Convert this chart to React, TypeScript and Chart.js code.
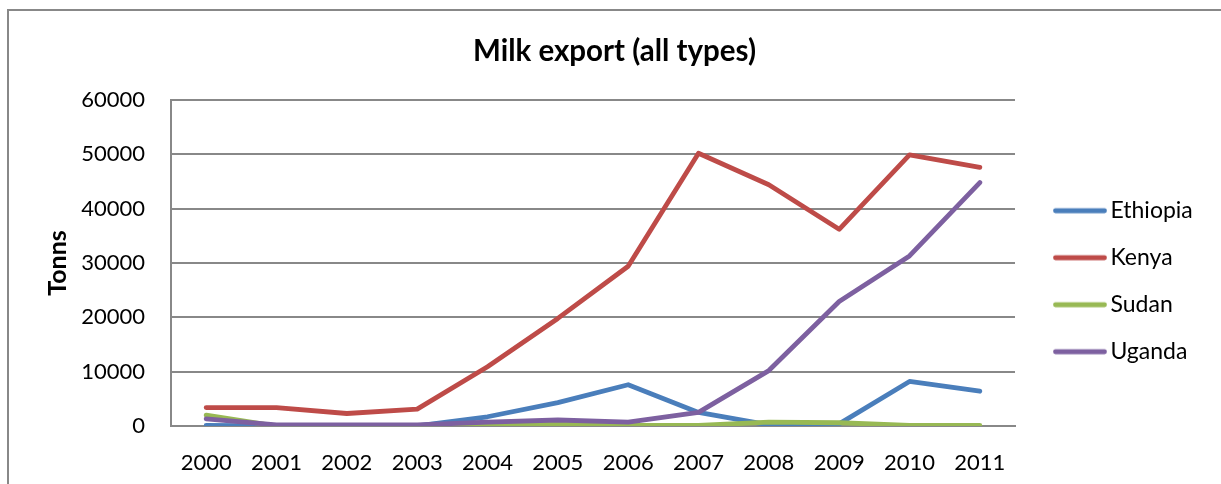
import React, { useEffect, useRef } from "react";
import { Chart, registerables } from "chart.js";

Chart.register(...registerables);

const years = ["2000", "2001", "2002", "2003", "2004", "2005", "2006", "2007", "2008", "2009", "2010", "2011"];
const ethiopia = [100, 0, 0, 0, 1700, 4300, 7600, 2500, 200, 400, 8200, 6400];
const kenya = [3400, 3400, 2300, 3100, 10900, 19800, 29400, 50200, 44400, 36200, 49900, 47600];
const sudan = [2000, 0, 0, 0, 200, 400, 100, 100, 700, 600, 100, 100];
const uganda = [1300, 200, 200, 200, 700, 1100, 700, 2500, 10200, 22900, 31300, 44800];

const FONT = "Lato, 'Open Sans', sans-serif";

// Legend swatch: a short rounded line, drawn a little right of the swatch centre
function makeSwatch(color: string): HTMLCanvasElement {
  const c = document.createElement("canvas");
  c.width = 80;
  c.height = 8;
  const ctx = c.getContext("2d")!;
  ctx.strokeStyle = color;
  ctx.lineWidth = 4.8;
  ctx.lineCap = "round";
  ctx.beginPath();
  ctx.moveTo(26.5, 4);
  ctx.lineTo(75.5, 4);
  ctx.stroke();
  return c;
}

export default function App() {
  const ref = useRef<HTMLCanvasElement>(null);

  useEffect(() => {
    if (!ref.current) return;
    const series = [
      { label: "Ethiopia", data: ethiopia, color: "#4A7EBB", order: 3 },
      { label: "Kenya", data: kenya, color: "#BE4B48", order: 2 },
      { label: "Sudan", data: sudan, color: "#98B954", order: 1 },
      { label: "Uganda", data: uganda, color: "#7D60A0", order: 0 },
    ];
    const swatches = series.map((s) => makeSwatch(s.color));

    const chart = new Chart(ref.current, {
      type: "line",
      data: {
        labels: years,
        datasets: series.map((s) => ({
          label: s.label,
          data: s.data,
          order: s.order,
          borderColor: s.color,
          backgroundColor: s.color,
          borderWidth: 4.8,
          borderCapStyle: "round",
          borderJoinStyle: "round",
          pointRadius: 0,
          tension: 0,
          fill: false,
        })),
      },
      options: {
        animation: false,
        responsive: true,
        maintainAspectRatio: false,
        layout: { padding: { left: 20, right: 21, top: 0, bottom: 7.6 } },
        plugins: {
          title: {
            display: true,
            text: "Milk export (all types)",
            color: "#000",
            font: { family: FONT, size: 29.5, weight: "bold", lineHeight: 1.2 },
            padding: { top: 22.9, bottom: 30.7 },
          },
          legend: {
            position: "right",
            fullSize: false,
            maxWidth: 185,
            title: {
              display: true,
              text: "",
              font: { size: 10, lineHeight: 1 },
              padding: { top: 13, bottom: 13.4 },
            },
            labels: {
              color: "#000",
              font: { family: FONT, size: 23 },
              padding: 24,
              usePointStyle: true,
              pointStyleWidth: 60,
              sort: (a: any, b: any) => a.datasetIndex - b.datasetIndex,
              generateLabels: (c: any) => {
                const base = Chart.defaults.plugins.legend.labels.generateLabels(c);
                return base.map((item: any) => ({
                  ...item,
                  pointStyle: swatches[item.datasetIndex],
                }));
              },
            },
          },
          tooltip: { enabled: false },
        },
        scales: {
          x: {
            type: "category",
            offset: true,
            afterFit: (scale: any) => {
              scale.height = 50.4;
            },
            grid: { display: false, drawTicks: false },
            border: { display: true, color: "#888", width: 2 },
            ticks: {
              color: "#000",
              font: { family: FONT, size: 22, lineHeight: 1.2 },
              padding: 24,
              maxRotation: 0,
              autoSkip: false,
            },
          },
          y: {
            min: 0,
            max: 60000,
            afterFit: (scale: any) => {
              scale.width = 142;
            },
            grid: { color: "#888", lineWidth: 2, drawTicks: false },
            border: { display: true, color: "#888", width: 2 },
            ticks: {
              stepSize: 10000,
              color: "#000",
              font: { family: FONT, size: 22 },
              padding: 26,
              callback: (v: any) => String(v),
            },
            title: {
              display: true,
              text: "Tonns",
              color: "#000",
              font: { family: FONT, size: 25, weight: "bold", lineHeight: 1.2 },
              padding: { top: 14, bottom: 0 },
            },
          },
        },
      },
    } as any);

    return () => chart.destroy();
  }, []);

  return (
    <div
      style={{
        position: "absolute",
        left: 7,
        top: 9,
        width: 1212,
        height: 473,
        borderTop: "2px solid #888",
        borderLeft: "2px solid #888",
        background: "#fff",
      }}
    >
      <div style={{ position: "relative", width: 1212, height: 473 }}>
        <canvas ref={ref} />
      </div>
    </div>
  );
}
